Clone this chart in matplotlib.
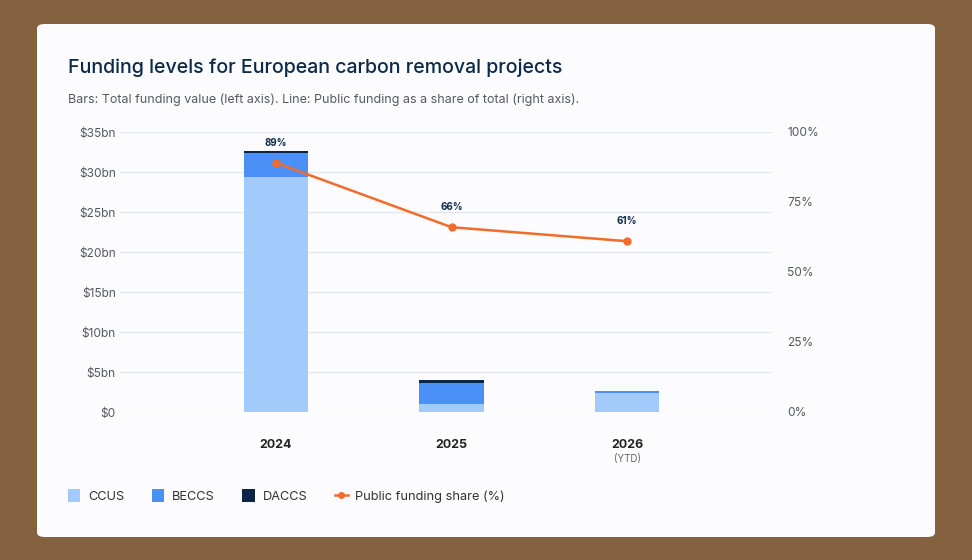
import matplotlib.pyplot as plt
from matplotlib.patches import FancyBboxPatch
from matplotlib.lines import Line2D
from matplotlib.patches import Patch

plt.rcParams['font.family'] = ['Inter', 'DejaVu Sans']

years = ['2024', '2025', '2026']
ccus = [29.4, 1.0, 2.4]
beccs = [3.0, 2.6, 0.25]
daccs = [0.25, 0.35, 0.0]
public_share = [89, 66, 61]

c_ccus = '#a2cbfc'
c_beccs = '#4a90f7'
c_daccs = '#0b2447'
c_line = '#f36b2a'
navy = '#0b2a4a'
grey = '#555a60'

fig = plt.figure(figsize=(9.72, 5.6), dpi=100)
fig.patch.set_facecolor('#84623f')

# white card behind everything
card = FancyBboxPatch((37 / 972, 1 - 537 / 560), (935 - 37) / 972, (537 - 24) / 560,
                      boxstyle='round,pad=0,rounding_size=0.008',
                      transform=fig.transFigure, facecolor='#fcfbfd', edgecolor='none', zorder=-10)
fig.patches.append(card)

fig.text(68 / 972, 1 - 68 / 560, 'Funding levels for European carbon removal projects',
         fontsize=14.1, color=navy, fontweight='medium', va='center')
fig.text(68 / 972, 1 - 100 / 560,
         'Bars: Total funding value (left axis). Line: Public funding as a share of total (right axis).',
         fontsize=9.0, color=grey, va='center')

ax = fig.add_axes([120 / 972, 1 - 412 / 560, (772 - 120) / 972, 280 / 560])
ax.set_facecolor('none')
x = list(range(len(years)))
w = 0.365
bottom2 = [a + b for a, b in zip(ccus, beccs)]
ax.bar(x, ccus, w, color=c_ccus, zorder=2)
ax.bar(x, beccs, w, bottom=ccus, color=c_beccs, zorder=2)
ax.bar(x, daccs, w, bottom=bottom2, color=c_daccs, zorder=2)

ax.set_xlim(-0.889, 2.826)
ax.set_ylim(0, 35)
ax.set_yticks(range(0, 36, 5))
ax.set_yticklabels(['$0'] + ['$%dbn' % v for v in range(5, 36, 5)])
ax.grid(axis='y', color='#e3e7ef', linewidth=0.9, zorder=0)
ax.set_axisbelow(True)
for s in ax.spines.values():
    s.set_visible(False)
ax.tick_params(axis='y', length=0, labelsize=8.6, labelcolor=grey, pad=3)
ax.set_xticks(x)
ax.set_xticklabels(years, fontsize=9, fontweight='bold', color='#222')
ax.tick_params(axis='x', length=0, pad=19.5)
ax.text(2, -0.168, '(YTD)', transform=ax.get_xaxis_transform(), ha='center', va='center',
        fontsize=7, color='#666')

ax2 = ax.twinx()
ax2.set_ylim(0, 100)
ax2.set_yticks([0, 25, 50, 75, 100])
ax2.set_yticklabels(['0%', '25%', '50%', '75%', '100%'])
ax2.tick_params(axis='y', length=0, labelsize=8.6, labelcolor=grey, pad=11)
for s in ax2.spines.values():
    s.set_visible(False)
ax2.plot(x, public_share, color=c_line, linewidth=1.8, marker='o', markersize=5, zorder=5)
for xi, v in zip(x, public_share):
    ax2.annotate('%d%%' % v, (xi, v), xytext=(0, 11), textcoords='offset points',
                 ha='center', va='bottom', fontsize=7, fontweight='bold', color=navy)

handles = [
    Patch(facecolor=c_ccus, edgecolor='none', label='CCUS'),
    Patch(facecolor=c_beccs, edgecolor='none', label='BECCS'),
    Patch(facecolor=c_daccs, edgecolor='none', label='DACCS'),
    Line2D([0], [0], color=c_line, marker='o', markersize=4, linewidth=1.8, label='Public funding share (%)'),
]
fig.legend(handles=handles, loc='center left', bbox_to_anchor=(56 / 972, 1 - 496 / 560), ncol=4,
           frameon=False, fontsize=9.2, labelcolor='#333', handlelength=1.0, handleheight=1.2,
           columnspacing=2.15, handletextpad=0.6)

fig.savefig('out.png', dpi=100, facecolor=fig.get_facecolor())
